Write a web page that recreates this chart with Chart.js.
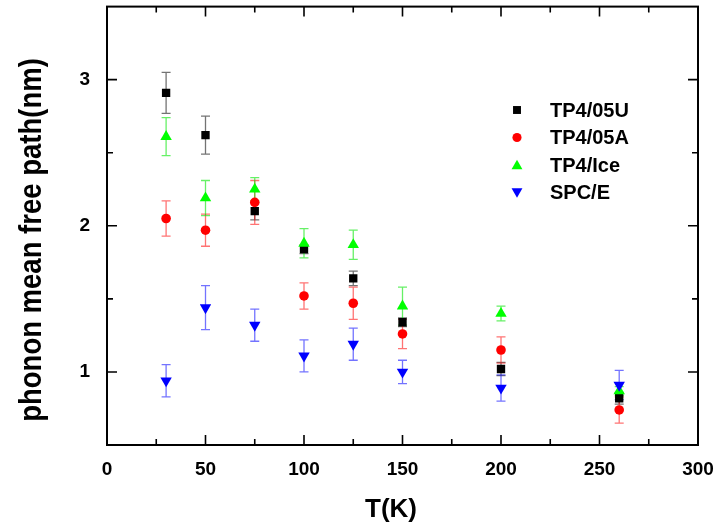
<!DOCTYPE html>
<html><head><meta charset="utf-8">
<script src="https://cdn.jsdelivr.net/npm/chart.js@4.4.0/dist/chart.umd.min.js"></script>
<style>html,body{margin:0;padding:0;background:#fff;} #wrap{width:718px;height:531px;}</style>
</head><body><div id="wrap"><canvas id="c" width="718" height="531"></canvas></div>
<script>
// ---- data ----
const temperatures = [30, 50, 75, 100, 125, 150, 200, 260];
const seriesNames = ['TP4/05U', 'TP4/05A', 'TP4/Ice', 'SPC/E'];
const tp05U    = [2.91, 2.62, 2.10, 1.84, 1.64, 1.34, 1.02, 0.82];
const tp05UErr = [0.14, 0.13, 0.06, 0.03, 0.05, 0.03, 0.045, 0.04];
const tp05A    = [2.05, 1.97, 2.16, 1.52, 1.47, 1.26, 1.15, 0.74];
const tp05AErr = [0.12, 0.11, 0.15, 0.09, 0.11, 0.10, 0.09, 0.09];
const tpIce    = [2.61, 2.19, 2.25, 1.88, 1.87, 1.45, 1.40, 0.87];
const tpIceErr = [0.13, 0.12, 0.08, 0.10, 0.10, 0.13, 0.05, 0.03];
const spce     = [0.94, 1.44, 1.32, 1.11, 1.19, 1.00, 0.89, 0.91];
const spceErr  = [0.11, 0.15, 0.11, 0.11, 0.11, 0.08, 0.09, 0.10];
const xMajorTicks = [0, 50, 100, 150, 200, 250, 300];
const xMinorTicks = [25, 75, 125, 175, 225, 275];
const yMajorTicks = [1, 2, 3];
const yMinorTicks = [1.5, 2.5];
const xTitle = 'T(K)';
const yTitle = 'phonon mean free path(nm)';

// ---- styles ----
const styles = [
  {color: '#000000', err: 'rgba(0,0,0,0.55)',     pointStyle: 'rect',     radius: 5.9, rotation: 0,   order: 3},
  {color: '#ff0000', err: 'rgba(255,0,0,0.55)',   pointStyle: 'circle',   radius: 4.8, rotation: 0,   order: 2},
  {color: '#00ff00', err: 'rgba(0,230,0,0.6)',    pointStyle: 'triangle', radius: 6.6, rotation: 0,   order: 1},
  {color: '#0000ff', err: 'rgba(0,0,255,0.55)',   pointStyle: 'triangle', radius: 6.6, rotation: 180, order: 0}
];
const seriesValues = [tp05U, tp05A, tpIce, spce];
const seriesErrors = [tp05UErr, tp05AErr, tpIceErr, spceErr];

const datasets = seriesNames.map((name, k) => ({
  label: name,
  data: temperatures.map((t, i) => ({x: t, y: seriesValues[k][i]})),
  errors: seriesErrors[k],
  errColor: styles[k].err,
  showLine: false,
  pointStyle: styles[k].pointStyle,
  pointRadius: styles[k].radius,
  pointRotation: styles[k].rotation,
  pointBackgroundColor: styles[k].color,
  pointBorderColor: styles[k].color,
  pointBorderWidth: 0,
  order: styles[k].order
}));

const FONT = '"Liberation Sans", Arial, sans-serif';

const errorBarPlugin = {
  id: 'errorBars',
  beforeDatasetsDraw(chart) {
    const {ctx, scales: {x, y}} = chart;
    ctx.save();
    ctx.lineWidth = 1.3;
    chart.data.datasets.forEach((ds) => {
      ctx.strokeStyle = ds.errColor;
      ds.data.forEach((p, i) => {
        const e = ds.errors[i];
        const px = x.getPixelForValue(p.x);
        const y1 = y.getPixelForValue(p.y + e);
        const y2 = y.getPixelForValue(p.y - e);
        ctx.beginPath();
        ctx.moveTo(px, y1); ctx.lineTo(px, y2);
        ctx.moveTo(px - 4.5, y1); ctx.lineTo(px + 4.5, y1);
        ctx.moveTo(px - 4.5, y2); ctx.lineTo(px + 4.5, y2);
        ctx.stroke();
      });
    });
    ctx.restore();
  }
};

const framePlugin = {
  id: 'frame',
  afterDatasetsDraw(chart) {
    const {ctx, chartArea: {left, right, top, bottom}, scales: {x, y}} = chart;
    ctx.save();
    ctx.strokeStyle = '#000';
    ctx.lineWidth = 2;
    ctx.strokeRect(left, top, right - left, bottom - top);
    ctx.lineWidth = 1.6;
    ctx.beginPath();
    const xt = (v, len) => {
      const px = x.getPixelForValue(v);
      ctx.moveTo(px, bottom); ctx.lineTo(px, bottom - len);
      ctx.moveTo(px, top); ctx.lineTo(px, top + len);
    };
    const yt = (v, len) => {
      const py = y.getPixelForValue(v);
      ctx.moveTo(left, py); ctx.lineTo(left + len, py);
      ctx.moveTo(right, py); ctx.lineTo(right - len, py);
    };
    xMajorTicks.forEach(v => xt(v, 10));
    xMinorTicks.forEach(v => xt(v, 6));
    yMajorTicks.forEach(v => yt(v, 10));
    yMinorTicks.forEach(v => yt(v, 6));
    ctx.stroke();

    // axis titles
    ctx.fillStyle = '#000';
    ctx.font = 'bold 26px ' + FONT;
    ctx.textAlign = 'center';
    ctx.textBaseline = 'alphabetic';
    ctx.fillText(xTitle, 391, 517);
    ctx.save();
    ctx.translate(40.5, 240);
    ctx.rotate(-Math.PI / 2);
    ctx.scale(1, 1.12);
    ctx.font = 'bold 27.5px ' + FONT;
    ctx.fillText(yTitle, 0, 0);
    ctx.restore();

    // legend
    const lx = 517, ly0 = 110, dy = 27.5;
    ctx.font = 'bold 20px ' + FONT;
    ctx.textAlign = 'left';
    ctx.textBaseline = 'middle';
    seriesNames.forEach((name, k) => {
      const yy = ly0 + k * dy;
      ctx.fillStyle = styles[k].color;
      ctx.strokeStyle = styles[k].color;
      Chart.helpers.drawPoint(ctx, {pointStyle: styles[k].pointStyle, radius: styles[k].radius * 0.95, rotation: styles[k].rotation, borderWidth: 0}, lx, yy + (styles[k].pointStyle === 'triangle' ? (styles[k].rotation ? -1 : 1) : 0));
      ctx.fillStyle = '#000';
      ctx.fillText(name, 550, yy + 1);
    });
    ctx.restore();
  }
};

new Chart(document.getElementById('c'), {
  type: 'scatter',
  data: {datasets},
  options: {
    responsive: false,
    animation: false,
    devicePixelRatio: 1,
    layout: {padding: {left: 0, right: 20, top: 6, bottom: 0}},
    plugins: {legend: {display: false}, tooltip: {enabled: false}},
    scales: {
      x: {
        type: 'linear', min: 0, max: 300,
        afterBuildTicks: s => { s.ticks = xMajorTicks.map(v => ({value: v})); },
        afterFit: s => { s.height = 86; s.paddingLeft = 0; s.paddingRight = 0; },
        grid: {display: false}, border: {display: false},
        ticks: {color: '#000', font: {family: FONT, size: 19, weight: 'bold'}, padding: 5, maxRotation: 0}
      },
      y: {
        type: 'linear', min: 0.5, max: 3.5,
        afterBuildTicks: s => { s.ticks = yMajorTicks.map(v => ({value: v})); },
        afterFit: s => { s.width = 107; s.paddingTop = 0; s.paddingBottom = 0; },
        grid: {display: false}, border: {display: false},
        ticks: {color: '#000', font: {family: FONT, size: 19, weight: 'bold'}, padding: 9}
      }
    }
  },
  plugins: [errorBarPlugin, framePlugin]
});
</script>
</body></html>
